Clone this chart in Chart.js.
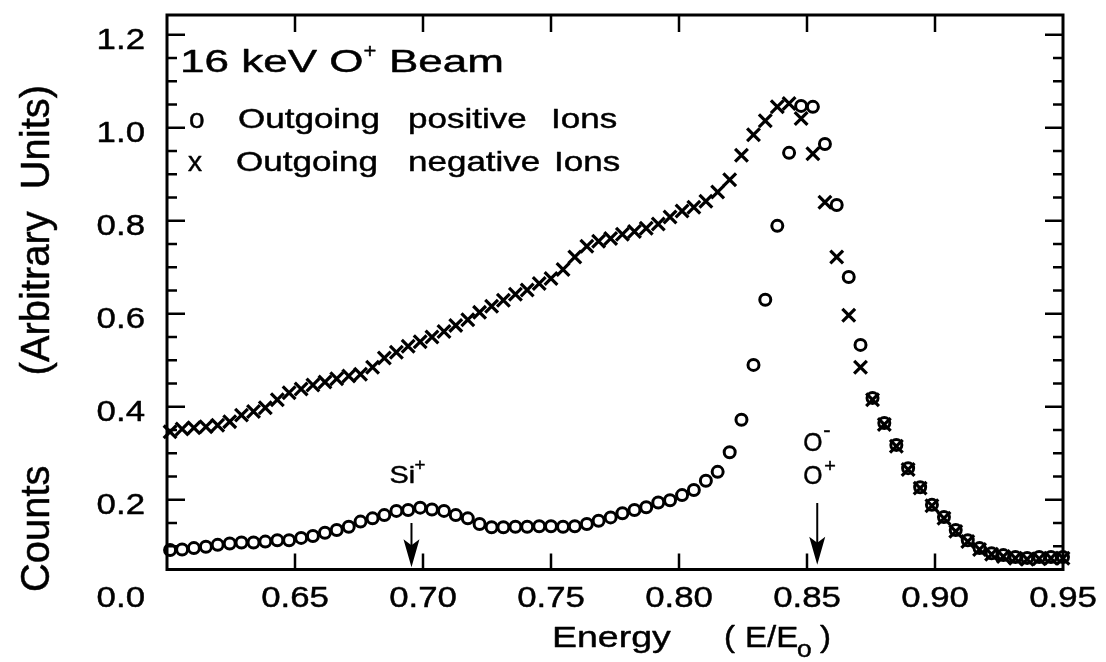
<!DOCTYPE html>
<html>
<head>
<meta charset="utf-8">
<script src="https://cdn.jsdelivr.net/npm/chart.js@4.4.1/dist/chart.umd.min.js"></script>
<style>
  html, body { margin: 0; padding: 0; background: #fff; }
  #wrap { width: 1106px; height: 662px; position: relative; }
</style>
</head>
<body>
<div id="wrap"><canvas id="chart"></canvas></div>
<script>
// energy channels (E/E0)
var energy = [
  0.6012, 0.6059, 0.6105, 0.6152, 0.6198, 0.6245, 0.6291, 0.6338, 0.6384, 0.6431,
  0.6477, 0.6524, 0.6570, 0.6617, 0.6663, 0.6710, 0.6756, 0.6803, 0.6849, 0.6896,
  0.6942, 0.6989, 0.7035, 0.7082, 0.7128, 0.7175, 0.7221, 0.7268, 0.7314, 0.7361,
  0.7407, 0.7454, 0.7500, 0.7547, 0.7593, 0.7640, 0.7686, 0.7733, 0.7779, 0.7826,
  0.7872, 0.7919, 0.7965, 0.8012, 0.8058, 0.8105, 0.8151, 0.8198, 0.8244, 0.8291,
  0.8337, 0.8384, 0.8430, 0.8477, 0.8523, 0.8570, 0.8616, 0.8663, 0.8709, 0.8756,
  0.8802, 0.8849, 0.8895, 0.8942, 0.8988, 0.9035, 0.9081, 0.9128, 0.9174, 0.9221,
  0.9267, 0.9314, 0.9360, 0.9407, 0.9453, 0.9500
];
// outgoing positive ions (o)
var positiveIons = [
  0.092, 0.093, 0.096, 0.099, 0.103, 0.106, 0.108, 0.108, 0.110, 0.113,
  0.113, 0.118, 0.122, 0.129, 0.135, 0.142, 0.153, 0.160, 0.167, 0.176,
  0.178, 0.183, 0.179, 0.176, 0.167, 0.160, 0.148, 0.141, 0.141, 0.142,
  0.142, 0.143, 0.143, 0.142, 0.143, 0.148, 0.155, 0.162, 0.171, 0.178,
  0.184, 0.194, 0.199, 0.210, 0.221, 0.241, 0.260, 0.302, 0.372, 0.490,
  0.630, 0.789, 0.946, 1.047, 1.045, 0.965, 0.834, 0.679, 0.533, 0.419,
  0.365, 0.318, 0.268, 0.227, 0.189, 0.163, 0.135, 0.113, 0.096, 0.085,
  0.081, 0.077, 0.075, 0.077, 0.077, 0.077
];
// outgoing negative ions (x)
var negativeIons = [
  0.346, 0.352, 0.355, 0.357, 0.360, 0.368, 0.382, 0.390, 0.398, 0.415,
  0.430, 0.438, 0.447, 0.453, 0.460, 0.466, 0.470, 0.485, 0.505, 0.517,
  0.530, 0.540, 0.550, 0.562, 0.575, 0.587, 0.603, 0.616, 0.629, 0.642,
  0.651, 0.665, 0.676, 0.695, 0.722, 0.745, 0.756, 0.762, 0.771, 0.777,
  0.784, 0.793, 0.808, 0.821, 0.829, 0.842, 0.862, 0.888, 0.941, 0.985,
  1.015, 1.045, 1.052, 1.020, 0.944, 0.840, 0.722, 0.597, 0.485, 0.415,
  0.362, 0.315, 0.265, 0.225, 0.187, 0.160, 0.132, 0.110, 0.093, 0.083,
  0.078, 0.074, 0.072, 0.073, 0.074, 0.074
];

var xTickValues = [0.65, 0.70, 0.75, 0.80, 0.85, 0.90, 0.95];
var xTickLabels = ['0.65', '0.70', '0.75', '0.80', '0.85', '0.90', '0.95'];
var yTickValues = [0.0, 0.2, 0.4, 0.6, 0.8, 1.0, 1.2];
var yTickLabels = ['0.0', '0.2', '0.4', '0.6', '0.8', '1.0', '1.2'];

// peak markers: arrow energy, arrow top and tip (counts)
var siArrow = [0.6955, 0.150, 0.055];
var oArrow = [0.854, 0.193, 0.060];

var FONT = '"Liberation Sans", Arial, Helvetica, sans-serif';

// text drawn with a horizontal stretch, y = centre of capitals
function txt(ctx, s, x, y, size, sx, align) {
    ctx.save();
    ctx.font = size + 'px ' + FONT;
    ctx.textBaseline = 'alphabetic';
    ctx.textAlign = align || 'left';
    ctx.translate(x, y + size * 0.358);
    ctx.scale(sx, 1);
    ctx.fillText(s, 0, 0);
    // a little heavier, like the scanned print
    ctx.lineWidth = 0.45;
    ctx.lineJoin = 'round';
    ctx.strokeText(s, 0, 0);
    var w = ctx.measureText(s).width * sx;
    ctx.restore();
    return w;
}

function seg(ctx, x1, y1, x2, y2) {
    ctx.beginPath();
    ctx.moveTo(x1, y1);
    ctx.lineTo(x2, y2);
    ctx.stroke();
}

function arrowDown(ctx, x, yTop, yTip) {
    ctx.lineWidth = 2;
    seg(ctx, x, yTop, x, yTip - 20);
    ctx.beginPath();
    ctx.moveTo(x, yTip);
    ctx.lineTo(x - 8, yTip - 28);
    ctx.lineTo(x, yTip - 22);
    ctx.lineTo(x + 8, yTip - 28);
    ctx.closePath();
    ctx.fill();
}

var framePlugin = {
    id: 'frame',
    afterDraw: function (chart) {
        var ctx = chart.ctx;
        var a = chart.chartArea;
        var xs = chart.scales.x;
        var ys = chart.scales.y;
        ctx.save();
        ctx.strokeStyle = '#000';
        ctx.fillStyle = '#000';

        // axes box
        ctx.lineWidth = 3;
        ctx.strokeRect(a.left, a.top, a.right - a.left, a.bottom - a.top);

        // y ticks pointing inward, left and right
        ctx.lineWidth = 2.5;
        ys.ticks.forEach(function (t) {
            var k = Math.round(t.value / 0.05);
            if (Math.abs(t.value - k * 0.05) > 1e-6) return;
            var p = ys.getPixelForValue(t.value);
            if (p > a.bottom - 3 || p < a.top + 3) return;
            var len = (k % 4 === 0) ? 18 : 10;
            seg(ctx, a.left, p, a.left + len, p);
            seg(ctx, a.right, p, a.right - len, p);
        });

        // x ticks pointing inward, bottom and top
        xs.ticks.forEach(function (t) {
            var p = xs.getPixelForValue(t.value);
            if (p < a.left + 3 || p > a.right - 3) return;
            seg(ctx, p, a.bottom, p, a.bottom - 16);
            seg(ctx, p, a.top, p, a.top + 17);
        });

        // tick labels
        yTickValues.forEach(function (v, i) {
            txt(ctx, yTickLabels[i], 145, ys.getPixelForValue(v) + 4, 29, 1.2, 'right');
        });
        xTickValues.forEach(function (v, i) {
            txt(ctx, xTickLabels[i], xs.getPixelForValue(v), 597, 29, 1.2, 'center');
        });

        // x title: Energy ( E/E o )
        txt(ctx, 'Energy', 552, 636, 30, 1.25, 'left');
        txt(ctx, '(', 724, 636, 30, 1.1, 'left');
        txt(ctx, 'E/E', 745, 636, 30, 1.1, 'left');
        txt(ctx, 'o', 797, 648, 24, 1.1, 'left');
        txt(ctx, ')', 820, 636, 30, 1.1, 'left');

        // y title, rotated
        ctx.save();
        ctx.translate(35, 0);
        ctx.rotate(-Math.PI / 2);
        ctx.scale(1.05, 1.08);
        ctx.font = '38px ' + FONT;
        ctx.textBaseline = 'alphabetic';
        ctx.lineWidth = 0.45;
        var base = 38 * 0.358 / 1.08;
        ctx.textAlign = 'left';
        ctx.fillText('Counts', -592 / 1.05, base);
        ctx.strokeText('Counts', -592 / 1.05, base);
        ctx.textAlign = 'right';
        ctx.fillText('(Arbitrary  Units)', -85 / 1.05, base);
        ctx.strokeText('(Arbitrary  Units)', -85 / 1.05, base);
        ctx.restore();

        // legend block in the plot
        var w = txt(ctx, '16 keV O', 180, 61, 31, 1.42, 'left');
        txt(ctx, '+', 180 + w, 51, 20, 1.1, 'left');
        txt(ctx, 'Beam', 389, 61, 31, 1.42, 'left');
        txt(ctx, 'o', 189, 118, 28, 1.0, 'left');
        txt(ctx, 'Outgoing', 238, 118, 28, 1.25, 'left');
        txt(ctx, 'positive', 408, 118, 28, 1.25, 'left');
        txt(ctx, 'Ions', 551, 118, 28, 1.25, 'left');
        txt(ctx, 'x', 188, 161, 28, 1.0, 'left');
        txt(ctx, 'Outgoing', 236, 161, 28, 1.25, 'left');
        txt(ctx, 'negative', 408, 161, 28, 1.25, 'left');
        txt(ctx, 'Ions', 554, 161, 28, 1.25, 'left');

        // Si+ marker
        var sx = xs.getPixelForValue(siArrow[0]);
        txt(ctx, 'Si', sx - 22, 474, 24, 1.2, 'left');
        txt(ctx, '+', sx + 3, 464, 17, 1.1, 'left');
        arrowDown(ctx, sx, ys.getPixelForValue(siArrow[1]), ys.getPixelForValue(siArrow[2]));

        // O- / O+ marker
        var ox = xs.getPixelForValue(oArrow[0]);
        txt(ctx, 'O', ox - 14, 442, 26, 0.95, 'left');
        txt(ctx, '-', ox + 6, 430, 20, 1.1, 'left');
        txt(ctx, 'O', ox - 14, 475, 26, 0.95, 'left');
        txt(ctx, '+', ox + 7, 466, 18, 1.1, 'left');
        arrowDown(ctx, ox, ys.getPixelForValue(oArrow[1]), ys.getPixelForValue(oArrow[2]));

        ctx.restore();
    }
};

var posPoints = energy.map(function (e, i) { return { x: e, y: positiveIons[i] }; });
var negPoints = energy.map(function (e, i) { return { x: e, y: negativeIons[i] }; });

var chart = new Chart(document.getElementById('chart'), {
    type: 'scatter',
    data: {
        datasets: [
            {
                label: 'Outgoing negative Ions',
                data: negPoints,
                pointStyle: 'crossRot',
                pointRadius: 9,
                pointBorderWidth: 3.2,
                pointBorderColor: '#000',
                showLine: false,
                clip: false
            },
            {
                label: 'Outgoing positive Ions',
                data: posPoints,
                pointStyle: 'circle',
                pointRadius: 5.5,
                pointBorderWidth: 3,
                pointBorderColor: '#000',
                pointBackgroundColor: 'rgba(255,255,255,0)',
                showLine: false,
                clip: false
            }
        ]
    },
    options: {
        responsive: true,
        maintainAspectRatio: false,
        animation: false,
        devicePixelRatio: 1,
        events: [],
        layout: { padding: { left: 0, right: 43, top: 15, bottom: 0 } },
        plugins: {
            legend: { display: false },
            tooltip: { enabled: false }
        },
        scales: {
            x: {
                type: 'linear',
                min: 0.60,
                max: 0.95,
                grid: { display: false },
                border: { display: false },
                ticks: { display: false, stepSize: 0.05 },
                afterFit: function (scale) { scale.height = 92.5; }
            },
            y: {
                type: 'linear',
                min: 0.05,
                max: 1.2425,
                grid: { display: false },
                border: { display: false },
                ticks: { display: false, stepSize: 0.05 },
                afterFit: function (scale) { scale.width = 167; }
            }
        }
    },
    plugins: [framePlugin]
});
</script>
</body>
</html>
